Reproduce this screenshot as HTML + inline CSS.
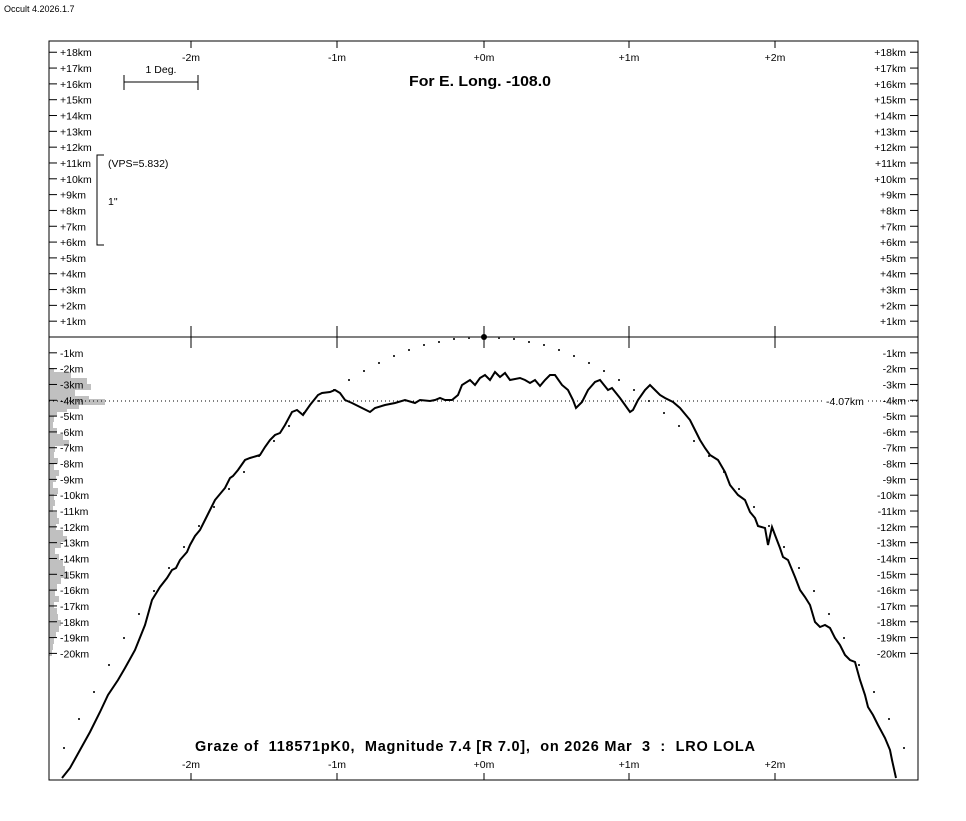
<!DOCTYPE html>
<html><head><meta charset="utf-8"><style>
html,body{margin:0;padding:0;background:#fff;}
svg{display:block;font-family:"Liberation Sans",Arial,sans-serif;}
</style></head><body>
<svg id="s" width="966" height="821" xmlns="http://www.w3.org/2000/svg">
<rect width="966" height="821" fill="#fff"/>
<text x="4" y="12" font-size="9">Occult 4.2026.1.7</text>
<g id="hist" fill="#c0c0c0"></g>
<rect x="49" y="41" width="869" height="739" fill="none" stroke="#000" stroke-width="1"/>
<line x1="49" y1="337" x2="918" y2="337" stroke="#000"/>
<line x1="49" y1="401" x2="825" y2="401" stroke="#000" stroke-dasharray="1,3"/>
<line x1="868" y1="401" x2="918" y2="401" stroke="#000" stroke-dasharray="1,3"/>
<text x="826" y="405" font-size="10.5">-4.07km</text>
<g id="ax" font-size="10.5"></g>
<text x="409" y="86" font-size="14.5" font-weight="bold" textLength="142" lengthAdjust="spacingAndGlyphs">For E. Long. -108.0</text>
<text x="195" y="751" font-size="14.5" font-weight="bold" textLength="560" lengthAdjust="spacing" style="white-space:pre" xml:space="preserve">Graze of  118571pK0,  Magnitude 7.4 [R 7.0],  on 2026 Mar  3  :  LRO LOLA</text>
<text x="161" y="73" font-size="10.5" text-anchor="middle">1 Deg.</text>
<path d="M124 75V90M124 82H198M198 75V90" stroke="#000" fill="none"/>
<path d="M104 155H97V245H104" stroke="#000" fill="none"/>
<text x="108" y="167" font-size="10.5">(VPS=5.832)</text>
<text x="108" y="205" font-size="10.5">1"</text>
<circle cx="484" cy="337" r="3" fill="#000"/>
<g id="dots" fill="#333"></g>
<polyline fill="none" stroke="#000" stroke-width="2" points="62,778 70,768 80,750 90,732 100,712 108,695 118,680 125,668 135,650 145,625 152,600 160,587 167,578 172,570 176,568 180,560 187,552 190,545 195,536 200,530 205,520 210,510 215,500 225,488 230,478 233,476 238,470 245,460 250,458 260,455 265,447 270,440 275,435 280,433 285,425 292,412 297,410 303,415 310,405 318,395 322,393 330,392 335,390 340,393 345,400 352,403 362,408 370,412 375,408 385,405 395,403 405,400 415,403 420,400 430,401 435,400 440,398 445,400 452,400 458,395 462,385 470,380 475,385 480,378 485,375 490,380 495,372 500,377 505,373 510,380 520,378 525,380 530,383 535,380 540,386 545,380 550,375 555,375 562,385 568,390 573,400 576,408 582,402 588,390 595,382 600,380 608,390 612,388 620,398 625,405 630,412 633,410 638,400 645,390 650,385 655,390 660,395 665,398 673,402 680,408 690,420 695,430 700,440 705,448 710,455 718,460 725,472 730,485 738,495 745,500 750,512 755,518 758,526 765,528 768,545 772,527 775,535 780,548 783,557 788,560 795,577 800,590 805,597 810,605 815,622 820,627 825,625 830,628 835,638 840,645 845,655 850,660 855,662 860,680 865,695 868,707 873,715 878,725 885,738 890,750 892,760 896,778"/>
</svg>
<script>
var NS="http://www.w3.org/2000/svg",ax=document.getElementById('ax');
function el(p,t,a,txt){var e=document.createElementNS(NS,t);for(var k in a)e.setAttribute(k,a[k]);if(txt)e.textContent=txt;p.appendChild(e);return e;}
for(var k=18;k>=-20;k--){if(k==0)continue;var y=337-15.82*k;
 var lab=(k>0?'+':'')+k+'km';
 el(ax,'line',{x1:49,y1:y,x2:57,y2:y,stroke:'#000'});
 el(ax,'line',{x1:910,y1:y,x2:918,y2:y,stroke:'#000'});
 el(ax,'text',{x:60,y:y+4},lab);
 el(ax,'text',{x:906,y:y+4,'text-anchor':'end'},lab);}
var xs={'-2m':191,'-1m':337,'+0m':484,'+1m':629,'+2m':775};
for(var l in xs){var x=xs[l];
 el(ax,'line',{x1:x,y1:41,x2:x,y2:48,stroke:'#000'});
 el(ax,'line',{x1:x,y1:326,x2:x,y2:348,stroke:'#000'});
 el(ax,'line',{x1:x,y1:773,x2:x,y2:780,stroke:'#000'});
 el(ax,'text',{x:x,y:61,'text-anchor':'middle'},l);
 el(ax,'text',{x:x,y:768,'text-anchor':'middle'},l);}
var dy=[338,339,342,345,350,356,363,371,380,390,401,413,426,441,456,472,489,507,526,547,568,591,614,638,665,692,719,748],d=document.getElementById('dots');
dy.forEach(function(y,i){var n=i+1;[484+15*n,484-15*n].forEach(function(x){el(d,'rect',{x:x-1,y:y-1,width:2,height:2});});});
var h=document.getElementById('hist'),w=[[368,5],[372,22],[378,38],[384,42],[390,26],[396,40],[399,56],[403,30],[406,18],[410,8],[416,5],[422,4],[428,8],[434,14],[440,20],[446,6],[452,5],[458,9],[464,5],[470,10],[476,7],[482,4],[488,9],[494,5],[500,6],[506,4],[512,8],[518,10],[524,7],[530,14],[536,18],[542,12],[548,6],[554,10],[560,14],[566,16],[572,20],[578,12],[584,8],[590,6],[596,10],[602,5],[608,8],[614,9],[620,12],[626,10],[632,7],[638,5],[644,4],[650,3]];
w.forEach(function(a){el(h,'rect',{x:49,y:a[0],width:a[1],height:6});});
</script>
</body></html>
